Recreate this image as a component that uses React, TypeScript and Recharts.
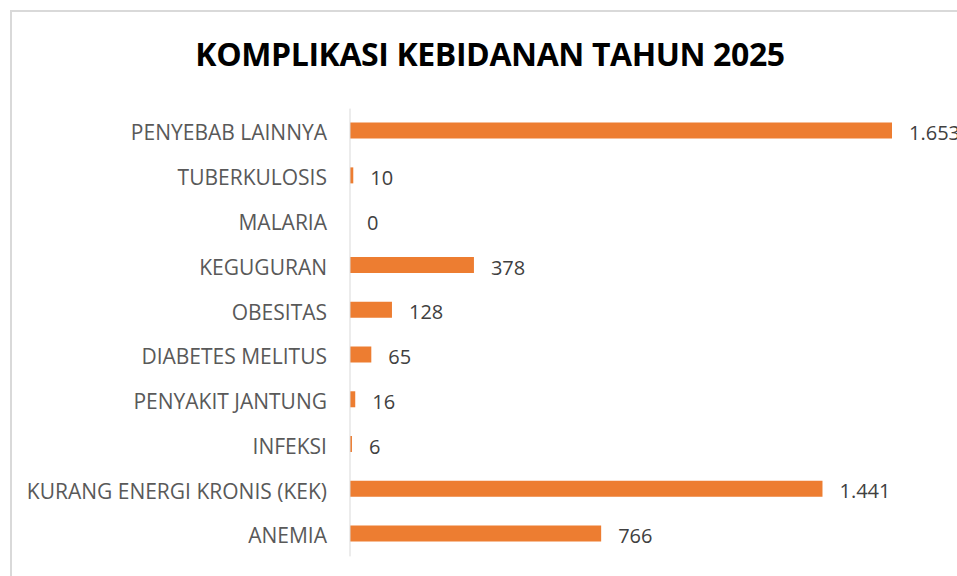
import { ComposedChart, Bar, Line, XAxis, YAxis, LabelList } from 'recharts';

const categories = [
  'PENYEBAB LAINNYA',
  'TUBERKULOSIS',
  'MALARIA',
  'KEGUGURAN',
  'OBESITAS',
  'DIABETES MELITUS',
  'PENYAKIT JANTUNG',
  'INFEKSI',
  'KURANG ENERGI KRONIS (KEK)',
  'ANEMIA',
];

const cases = [1653, 10, 0, 378, 128, 65, 16, 6, 1441, 766];

const data = categories.map((name, i) => ({ name, value: cases[i] }));

const fmt = (v: number) => String(v).replace(/\B(?=(\d{3})+(?!\d))/g, '.');

const font = '"Open Sans", sans-serif';

// labels hang off an invisible line so the zero bar still gets its "0"
const ValueLabel = (props: any) => {
  const { x, y, value } = props;
  return (
    <text
      x={Number(x) + 17}
      y={Number(y) + 2}
      dy="0.36em"
      fill="#404040"
      fontSize={20}
      fontFamily={font}
    >
      {fmt(Number(value))}
    </text>
  );
};

export default function App() {
  return (
    <div
      style={{
        position: 'absolute',
        left: 0,
        top: 0,
        width: 957,
        height: 576,
        overflow: 'hidden',
        background: '#fff',
        fontFamily: font,
      }}
    >
      <div
        style={{
          position: 'absolute',
          left: 10,
          top: 10,
          width: 980,
          height: 600,
          border: '2px solid #d9d9d9',
        }}
      />
      <div
        style={{
          position: 'absolute',
          left: 0,
          width: 980,
          top: 32,
          textAlign: 'center',
          fontSize: 32,
          fontWeight: 700,
          color: '#000',
          letterSpacing: -0.4,
        }}
      >
        KOMPLIKASI KEBIDANAN TAHUN 2025
      </div>
      <div style={{ position: 'absolute', left: 0, top: 0 }}>
        <ComposedChart
          width={957}
          height={576}
          data={data}
          layout="vertical"
          margin={{ top: 108.6, right: 65, bottom: 19.6, left: 0 }}
        >
          <XAxis type="number" hide domain={[0, 'dataMax']} />
          <YAxis
            type="category"
            dataKey="name"
            width={350}
            tickLine={false}
            tickMargin={17}
            axisLine={{ stroke: '#d9d9d9' }}
            tick={{ fill: '#595959', fontSize: 21, fontFamily: font, dy: 2 }}
            interval={0}
          />
          <Bar dataKey="value" fill="#ed7d31" barSize={16} isAnimationActive={false} />
          <Line
            dataKey="value"
            stroke="none"
            dot={false}
            activeDot={false}
            isAnimationActive={false}
          >
            <LabelList dataKey="value" content={ValueLabel} />
          </Line>
        </ComposedChart>
      </div>
    </div>
  );
}
